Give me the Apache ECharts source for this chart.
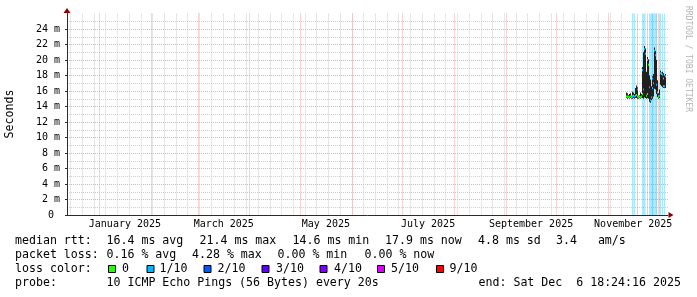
<!DOCTYPE html>
<html><head><meta charset="utf-8">
<script src="https://cdn.jsdelivr.net/npm/echarts@6/dist/echarts.min.js"></script>
<style>html,body{margin:0;padding:0;background:#fff}#c{width:697px;height:297px}</style>
</head><body><div id="c"></div>
<script>
// ---------- data ----------
const axisStart = '2024-12-12 22:00';
const axisEnd = '2025-12-06 18:24';
const bucketStart = '2025-11-11 12:00';
const bucketHours = 12;

// median rtt (ms) per 12h bucket
const medianMs = [15.3,15.3,15.2,15.3,15.2,15.3,15.2,15.3,15.3,15.4,15.3,15.4,15.5,16.2,15.3,15.2,15.3,15.2,15.3,15.6,
  18.7,16.2,21.4,20.8,15.4,15.6,20.0,19.4,16.5,14.8,15.2,17.6,16.4,17.0,21.2,20.6,16.8,15.8,15.3,15.3,
  15.4,18.3,18.2,18.1,17.6,16.6,16.6,17.9];
// smoke bottom / top (ms)
const minMs = [15.1,15.0,15.0,15.1,15.0,15.1,15.0,15.1,15.0,15.1,15.0,15.1,15.1,15.2,15.0,15.0,15.1,15.0,15.1,15.1,
  15.2,15.0,15.2,15.1,15.0,15.1,15.2,15.0,14.6,14.5,14.8,15.1,15.0,15.3,16.3,16.2,15.6,15.2,15.1,15.0,
  15.1,16.8,16.6,16.5,16.5,16.4,16.4,16.4];
const maxMs = [15.8,15.7,15.4,15.5,15.6,15.7,15.4,15.5,15.9,15.8,15.6,16.4,16.7,16.5,15.6,15.4,15.5,15.8,15.6,18.8,
  19.1,21.0,21.8,21.5,18.5,19.8,20.4,20.1,18.0,17.5,16.6,17.9,17.2,18.2,21.6,21.2,20.0,17.4,15.7,15.6,
  16.2,18.6,18.4,18.5,18.3,18.1,18.0,18.2];
// packet loss in tenths (10 pings)
const lossTenths = [0,0,0,0,0,0,0,0,1,0,1,0,0,1,0,0,0,0,0,0,
  1,1,1,0,0,0,1,0,1,1,1,1,1,1,1,1,1,0,0,0,
  1,1,0,1,0,0,1,0];

const yMaxMs = 26, yStepMs = 2;
const monthStarts = ['2025-01-01','2025-02-01','2025-03-01','2025-04-01','2025-05-01','2025-06-01',
  '2025-07-01','2025-08-01','2025-09-01','2025-10-01','2025-11-01','2025-12-01'];
const firstSunday = '2024-12-15';
const monthLabelTimes = ['2025-01-16 12:00','2025-03-16 12:00','2025-05-16 12:00','2025-07-16 12:00','2025-09-16 00:00','2025-11-16 00:00'];
const monthLabels = ['January 2025','March 2025','May 2025','July 2025','September 2025','November 2025'];

const lossLegendLabels = ['0','1/10','2/10','3/10','4/10','5/10','9/10'];
const lossLegendColors = ['#26ff00','#00b8ff','#0059ff','#5e00ff','#7e00ff','#dd00ff','#ff0000'];

const statRows = [
  ['median rtt:', ['16.4 ms avg','21.4 ms max','14.6 ms min','17.9 ms now','4.8 ms sd','3.4   am/s']],
  ['packet loss:', ['0.16 % avg','4.28 % max','0.00 % min','0.00 % now']],
  ['loss color:', []],
  ['probe:', ['10 ICMP Echo Pings (56 Bytes) every 20s','end: Sat Dec  6 18:24:16 2025']]
];

// ---------- helpers ----------
function utc(s){ const p=s.split(' '); const d=p[0].split('-').map(Number); const t=(p[1]||'00:00').split(':').map(Number);
  return Date.UTC(d[0],d[1]-1,d[2],t[0],t[1]); }
function lossClass(t){ return t>=9?6:(t>=5?5:t); }
const DAY = 86400e3;
const xMin = utc(axisStart), xMax = utc(axisEnd);
const weekStarts = []; for(let t=utc(firstSunday); t<xMax; t+=7*DAY) weekStarts.push(t);
const monthTicks = monthStarts.map(utc);
const labelTicks = monthLabelTimes.map(utc);
const T0 = utc(bucketStart), STEP = bucketHours*3600e3;
const rows = medianMs.map((m,i)=>[T0+i*STEP, T0+(i+1)*STEP, minMs[i], maxMs[i], m, lossTenths[i]]);

function px(api, i0, i1){ let a=Math.round(api.coord([api.value(i0),0])[0]); let b=Math.round(api.coord([api.value(i1),0])[0]); if(b<=a) b=a+1; return [a,b]; }
const lossBg = ['rgba(38,255,0,0.35)','rgba(0,184,255,0.33)','rgba(0,89,255,0.33)','rgba(94,0,255,0.33)','rgba(126,0,255,0.33)','rgba(221,0,255,0.33)','rgba(255,0,0,0.33)'];

const MONO = '"DejaVu Sans Mono", monospace';
const F = '11.6px ' + MONO;
const rowY = [241, 255, 269, 283];
const itemX = [[106.5,199.5,292.5,385,478,556],[106.5,192,277.5,364.5],[],[106.5,478.5]];
const boxX = [108, 146.5, 203.5, 261.5, 319.5, 377, 436];
const boxLabelX = [122, 159.5, 217.5, 276, 334, 391, 449.5];

const graphics = [];
statRows.forEach((r,ri)=>{
  graphics.push({type:'text', x:15, y:rowY[ri], style:{text:r[0], font:F, fill:'#000', verticalAlign:'middle'}});
  r[1].forEach((s,k)=>graphics.push({type:'text', x:itemX[ri][k], y:rowY[ri], style:{text:s, font:F, fill:'#000', verticalAlign:'middle'}}));
});
lossLegendLabels.forEach((s,k)=>{
  graphics.push({type:'rect', shape:{x:boxX[k]+0.5, y:265.5, width:7, height:7}, style:{fill:lossLegendColors[k], stroke:'#000', lineWidth:1}});
  graphics.push({type:'text', x:boxLabelX[k], y:rowY[2], style:{text:s, font:F, fill:'#000', verticalAlign:'middle'}});
});
graphics.push({type:'text', x:10, y:114, rotation:Math.PI/2, style:{text:'Seconds', font:'11.6px '+MONO, fill:'#000', align:'center', verticalAlign:'middle'}});
graphics.push({type:'text', x:688, y:59, rotation:-Math.PI/2, style:{text:'RRDTOOL / TOBI OETIKER', font:'8px '+MONO, fill:'#b4b4b4', align:'center', verticalAlign:'middle'}});

const minorGrid = {color:'#cfcfcf', width:1, type:[1,1]};
const majorGrid = {color:'#f3aaaa', width:1, type:[1,1]};
const axisCol = '#2a2a2a';

const option = {
  backgroundColor:'#ffffff',
  animation:false,
  grid:{left:67, right:29, top:13.5, bottom:82, outerBoundsMode:'none'},
  xAxis:[
    {type:'value', position:'bottom', min:xMin, max:xMax, axisLine:{show:false}, axisLabel:{show:false},
     axisTick:{show:false, customValues:weekStarts}, splitLine:{show:true, lineStyle:minorGrid}},
    {type:'value', position:'bottom', min:xMin, max:xMax,
     axisLine:{show:true, onZero:false, lineStyle:{color:axisCol, width:1}},
     axisTick:{show:false, customValues:monthTicks},
     axisLabel:{show:true, customValues:labelTicks, margin:4, color:'#000', fontFamily:MONO, fontSize:10,
       formatter:(v)=>{ const k=labelTicks.indexOf(v); return k>=0?monthLabels[k]:''; }},
     splitLine:{show:true, lineStyle:majorGrid}},
    {type:'value', position:'bottom', min:xMin, max:xMax, axisLabel:{show:false}, axisTick:{show:false}, splitLine:{show:false},
     axisLine:{show:true, onZero:false, symbol:['none','triangle'], symbolSize:[6,5], symbolOffset:[0,3], lineStyle:{color:'#8b0000', width:0}}}
  ],
  yAxis:[
    {type:'value', min:0, max:yMaxMs, interval:yStepMs,
     axisLine:{show:true, lineStyle:{color:axisCol, width:1}},
     axisTick:{show:true, length:2, lineStyle:{color:axisCol}},
     axisLabel:{show:true, showMaxLabel:false, margin:7, color:'#000', fontFamily:MONO, fontSize:10,
       formatter:(v)=> v===0 ? '0 ' : v+' m'},
     splitLine:{show:true, showMinLine:false, showMaxLine:false, lineStyle:majorGrid},
     minorTick:{show:false, splitNumber:2},
     minorSplitLine:{show:true, lineStyle:minorGrid}},
    {type:'value', min:0, max:yMaxMs, interval:yStepMs, position:'left',
     axisLabel:{show:false}, axisTick:{show:false}, splitLine:{show:false},
     axisLine:{show:true, symbol:['none','triangle'], symbolSize:[7,5], symbolOffset:[0,3], lineStyle:{color:'#8b0000', width:0}}}
  ],
  graphic:{elements:graphics},
  series:[
    {type:'custom', name:'loss', xAxisIndex:1, yAxisIndex:0, data:rows, encode:{x:[0,1], y:[2]},
     renderItem:(params, api)=>{ const l=api.value(5); if(!l) return null; const cs=params.coordSys; const x=px(api,0,1);
       return {type:'rect', shape:{x:x[0], y:cs.y, width:x[1]-x[0], height:cs.height}, style:{fill:lossBg[lossClass(l)]}}; }},
    {type:'custom', name:'smoke', xAxisIndex:1, yAxisIndex:0, data:rows, encode:{x:[0,1], y:[2,3]},
     renderItem:(params, api)=>{ const x=px(api,0,1); const yb=api.coord([api.value(0), api.value(2)])[1]; const yt=api.coord([api.value(0), api.value(3)])[1];
       return {type:'rect', shape:{x:x[0], y:yt, width:x[1]-x[0], height:yb-yt}, style:{fill:'#202020'}}; }},
    {type:'custom', name:'median', xAxisIndex:1, yAxisIndex:0, data:rows, encode:{x:[0,1], y:[4]},
     renderItem:(params, api)=>{ const x=px(api,0,1); const col=lossLegendColors[lossClass(api.value(5))];
       const ym=api.coord([api.value(0), api.value(4)])[1];
       return {type:'rect', shape:{x:x[0], y:ym-1, width:x[1]-x[0], height:2}, style:{fill:col}}; }}
  ]
};
const chart = echarts.init(document.getElementById('c'), null, {width:697, height:297});
chart.setOption(option);
</script></body></html>
